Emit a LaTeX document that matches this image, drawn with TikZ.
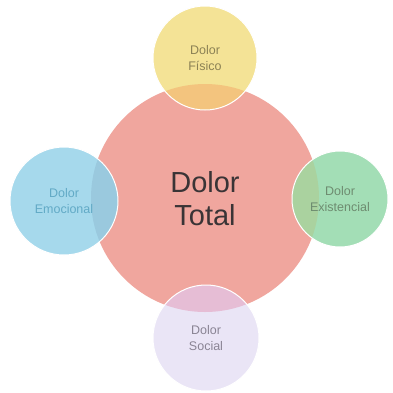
\documentclass[tikz,border=0pt]{standalone}
\usepackage{fontspec}
\setmainfont{Liberation Sans}
\definecolor{cpink}{HTML}{F0A69E}
\definecolor{cyel}{HTML}{F4E396}
\definecolor{cyelov}{HTML}{F3C47E}
\definecolor{cblue}{HTML}{A6D9EC}
\definecolor{cblueov}{HTML}{9AC9DE}
\definecolor{cgreen}{HTML}{A3DEB6}
\definecolor{cgreenov}{HTML}{AAD29F}
\definecolor{cpurp}{HTML}{EAE5F6}
\definecolor{cpurpov}{HTML}{E6BDD5}
\definecolor{tyel}{HTML}{8C8255}
\definecolor{tblue}{HTML}{62AAC6}
\definecolor{tgreen}{HTML}{6E8C70}
\definecolor{tpurp}{HTML}{8A8494}
\definecolor{tmain}{HTML}{3A3436}
\begin{document}
\begin{tikzpicture}[x=1pt,y=-1pt,
  bubble/.style={circle,inner sep=0pt},
  caption/.style={align=center,inner sep=0pt,font=\fontsize{12.5}{16}\selectfont},
  rim/.style={draw=white,line width=1pt}]
\useasboundingbox (0,0) rectangle (393,392);
\fill[white] (0,0) rectangle (393,392);
\node[bubble,minimum size=228pt,fill=cpink] (total) at (205,198) {};
\node[bubble,minimum size=104pt,fill=cyel] (fisico) at (205,58) {};
\node[bubble,minimum size=108pt,fill=cblue] (emoc) at (64,201) {};
\node[bubble,minimum size=96pt,fill=cgreen] (exist) at (340,199) {};
\node[bubble,minimum size=106pt,fill=cpurp] (social) at (206,338) {};
\begin{scope}
  \clip (total.center) circle (114);
  \fill[cyelov] (fisico.center) circle (52);
  \fill[cblueov] (emoc.center) circle (54);
  \fill[cgreenov] (exist.center) circle (48);
  \fill[cpurpov] (social.center) circle (53);
\end{scope}
\draw[rim] (fisico.center) circle (52);
\draw[rim] (emoc.center) circle (54);
\draw[rim] (exist.center) circle (48);
\draw[rim] (social.center) circle (53);
\node[caption,text=tyel] (fisicot) at (fisico.center) {Dolor\\Físico};
\node[caption,text=tblue] (emoct) at (emoc.center) {Dolor\\Emocional};
\node[caption,text=tgreen] (existt) at (exist.center) {Dolor\\Existencial};
\node[caption,text=tpurp] (socialt) at (social.center) {Dolor\\Social};
\node[align=center,text=tmain,font=\fontsize{29}{33}\selectfont] (label) at (205,199) {Dolor\\Total};
\end{tikzpicture}
\end{document}
